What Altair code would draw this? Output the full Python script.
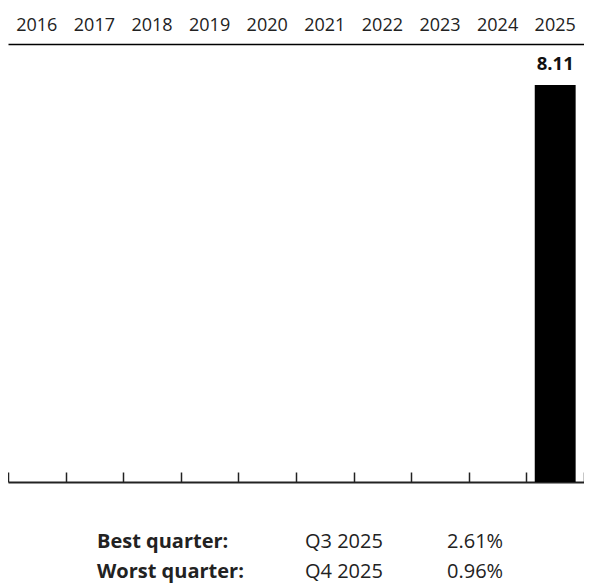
import altair as alt
import pandas as pd

years = ["2016", "2017", "2018", "2019", "2020", "2021", "2022", "2023", "2024", "2025"]
values = [None, None, None, None, None, None, None, None, None, 8.11]

summary_labels = ["Best quarter:", "Worst quarter:"]
summary_quarters = ["Q3 2025", "Q4 2025"]
summary_returns = ["2.61%", "0.96%"]

df = pd.DataFrame({"year": years, "value": values})

W, H = 576, 438
FONT = "Open Sans"
x_scale = alt.Scale(domain=years, paddingInner=0, paddingOuter=0)
y_scale = alt.Scale(domain=[0, 8.95])

base = alt.Chart(df)

bars = base.mark_bar(color="black", width=alt.RelativeBandSize(0.71)).encode(
    x=alt.X("year:N", scale=x_scale, sort=years,
            axis=alt.Axis(orient="top", title=None, labelAngle=0, ticks=False,
                          domainColor="black", domainWidth=1.5,
                          labelFontSize=18, labelFont=FONT, labelColor="#222",
                          labelPadding=10)),
    y=alt.Y("value:Q", scale=y_scale, axis=None),
)

labels = base.mark_text(font=FONT, fontWeight="bold", fontSize=18.5, baseline="alphabetic",
                        dy=-15, color="#111").encode(
    x=alt.X("year:N", scale=x_scale, sort=years,
            axis=alt.Axis(orient="top", offset=-H, labels=False, title=None,
                          tickBand="extent", ticks=True, tickSize=10, tickColor="#222",
                          tickWidth=1.5, domainColor="#222", domainWidth=2, grid=False)),
    y=alt.Y("value:Q", scale=y_scale, axis=None),
    text=alt.Text("value:Q", format=".2f"),
)

layers = [bars, labels]
col_x = [89, 297, 439]
row_y = [504, 534]
for i in range(len(summary_labels)):
    row = [summary_labels[i], summary_quarters[i], summary_returns[i]]
    for j, txt in enumerate(row):
        layers.append(
            alt.Chart(pd.DataFrame({"t": [txt]})).mark_text(
                font=FONT, fontSize=20, align="left", baseline="alphabetic",
                fontWeight="bold" if j == 0 else "normal", color="#222",
            ).encode(x=alt.value(col_x[j]), y=alt.value(row_y[i]), text="t:N")
        )

chart = alt.layer(*layers).resolve_axis(x="independent").properties(
    width=W, height=H,
    autosize=alt.AutoSizeParams(type="none"),
    padding={"left": 0, "top": 36, "right": 0, "bottom": 102},
).configure_view(stroke=None)

chart.save("out.html", embed_options={"renderer": "svg", "actions": False})
